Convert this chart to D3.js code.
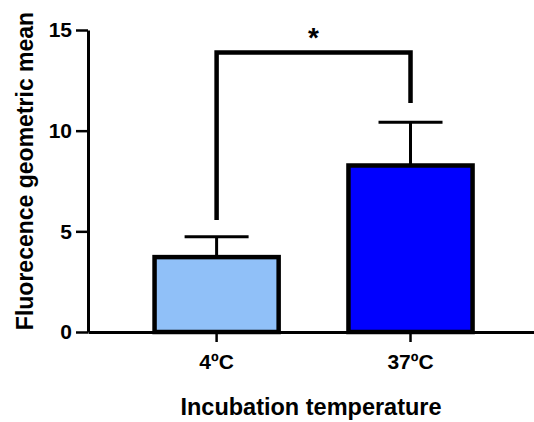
<!DOCTYPE html>
<html>
<head>
<meta charset="utf-8">
<script src="https://cdn.jsdelivr.net/npm/d3@7"></script>
<style>
  body { margin: 0; background: #fff; }
  text { font-family: "Liberation Sans", Arial, sans-serif; font-weight: bold; }
</style>
</head>
<body>
<div id="chart"></div>
<script>
// data
var categories = ["4ºC", "37ºC"];
var means = [3.72, 8.27];
var errors = [1.01, 2.15];
var colors = ["#90C0F8", "#0000FF"];
var yTicks = [0, 5, 10, 15];
// significance bracket: [left bottom, right bottom, top] in data units
var bracket = [5.56, 11.38, 13.88];
var sigLabel = "*";

var width = 534, height = 422;
var y0 = 332, y1 = 30, xLeft = 88, xRight = 534;

var svg = d3.select('#chart').append('svg')
    .attr('width', width)
    .attr('height', height)
    .style('background', '#fff');

var y = d3.scaleLinear().domain([0, 15]).range([y0, y1]);
var x = d3.scaleBand().domain(categories).range([xLeft, xRight])
    .paddingInner(0.36).paddingOuter(0.33).align(0.52);

// error bars (upper only), drawn under the bars
var eb = svg.append('g').attr('stroke', '#000').attr('stroke-width', 3).attr('fill', 'none');
categories.forEach(function (c, i) {
    var cx = x(c) + x.bandwidth() / 2;
    eb.append('line')
        .attr('x1', cx).attr('x2', cx)
        .attr('y1', y(means[i])).attr('y2', y(means[i] + errors[i]));
    eb.append('line')
        .attr('x1', cx - 32).attr('x2', cx + 32)
        .attr('y1', y(means[i] + errors[i])).attr('y2', y(means[i] + errors[i]));
});

// bars
svg.append('g').selectAll('rect')
    .data(means)
    .enter().append('rect')
    .attr('x', (d, i) => x(categories[i]))
    .attr('width', x.bandwidth())
    .attr('y', d => y(d))
    .attr('height', d => y(0) - y(d))
    .attr('fill', (d, i) => colors[i])
    .attr('stroke', '#000')
    .attr('stroke-width', 4.5);

// y axis
var ya = svg.append('g')
    .attr('transform', `translate(${xLeft},0)`)
    .call(d3.axisLeft(y).tickValues(yTicks).tickSize(12).tickSizeOuter(0).tickPadding(4));
ya.selectAll('text').style('font-size', '21px').attr('fill', '#000');

// x axis
var xa = svg.append('g')
    .attr('transform', `translate(0,${y0})`)
    .call(d3.axisBottom(x).tickSize(10).tickSizeOuter(0).tickPadding(12));
xa.selectAll('text').style('font-size', '21px').attr('fill', '#000');

svg.selectAll('.domain').attr('stroke', '#000').attr('stroke-width', 3);
svg.selectAll('.tick line').attr('stroke', '#000').attr('stroke-width', 2.5);

// significance bracket
var bxL = x(categories[0]) + x.bandwidth() / 2;
var bxR = x(categories[1]) + x.bandwidth() / 2;
var bpath = d3.path();
bpath.moveTo(bxL, y(bracket[0]));
bpath.lineTo(bxL, y(bracket[2]));
bpath.lineTo(bxR, y(bracket[2]));
bpath.lineTo(bxR, y(bracket[1]));
svg.append('path')
    .attr('d', bpath.toString())
    .attr('fill', 'none')
    .attr('stroke', '#000')
    .attr('stroke-width', 4.5)
    .attr('stroke-linejoin', 'miter');
svg.append('text')
    .attr('x', (bxL + bxR) / 2)
    .attr('y', 47)
    .attr('text-anchor', 'middle')
    .style('font-size', '28px')
    .text(sigLabel);

// axis titles
svg.append('text')
    .attr('transform', `translate(33,171) rotate(-90)`)
    .attr('text-anchor', 'middle')
    .style('font-size', '23px')
    .text('Fluorecence geometric mean');

svg.append('text')
    .attr('x', 311)
    .attr('y', 415)
    .attr('text-anchor', 'middle')
    .style('font-size', '23.5px')
    .text('Incubation temperature');
</script>
</body>
</html>
